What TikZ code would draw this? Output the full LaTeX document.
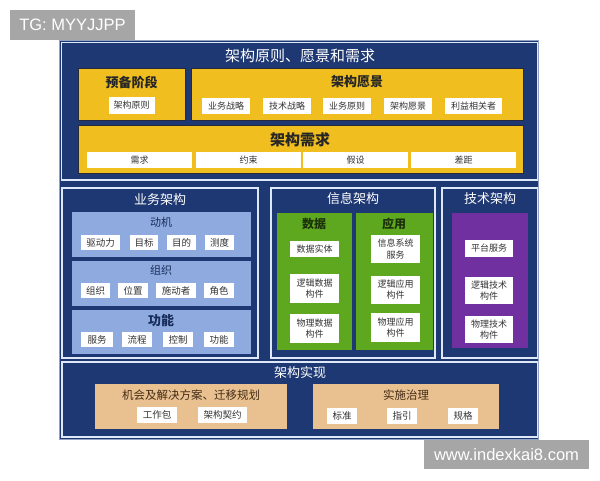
\documentclass[tikz,border=0pt]{standalone}
\usepackage{fontspec}
\setmainfont{Noto Sans CJK SC}
\newfontfamily\wmfont{Liberation Sans}
\usepackage{tikz}

\definecolor{navy}{RGB}{30,56,115}
\definecolor{edgewhite}{RGB}{222,232,246}
\definecolor{yel}{RGB}{240,190,30}
\definecolor{shadowline}{RGB}{38,42,58}
\definecolor{bandblue}{RGB}{142,170,222}
\definecolor{leaf}{RGB}{94,168,32}
\definecolor{grape}{RGB}{112,48,160}
\definecolor{peach}{RGB}{233,192,144}
\definecolor{wmgray}{RGB}{166,166,166}

\tikzset{
	panel/.style={fill=navy, draw=edgewhite, line width=1.2pt},
	yelbox/.style={fill=yel, draw=shadowline, line width=1pt},
	cell/.style={fill=white, inner sep=0pt, align=center, text=black!80, font=\fontsize{9}{11.5}\selectfont},
	bigcell/.style={cell, font=\fontsize{9.5}{12}\selectfont},
	paneltitle/.style={text=white, font=\fontsize{13}{15}\selectfont},
	boxtitle/.style={text=black!85, font=\bfseries\fontsize{13}{15}\selectfont},
	bandtitle/.style={text=navy!80!black, font=\fontsize{11}{13}\selectfont},
	wmark/.style={fill=wmgray, text=white, font=\wmfont\fontsize{16.5}{18}\selectfont}
}

\begin{document}
\begin{tikzpicture}[x=1pt,y=-1pt]
	\useasboundingbox (0,0) rectangle (600,480);
	
	\fill[navy] (59,40) rectangle (539,440);
	\draw[edgewhite!60!navy, line width=0.8pt] (59.4,40.4) rectangle (538.6,439.6);
	
	% top part
	\draw[panel] (61.5,42.5) rectangle (537.5,180);
	\node[paneltitle, font=\fontsize{15}{17}\selectfont] (arch) at (300,56) {架构原则、愿景和需求};
	
	\draw[yelbox] (78,68) rectangle (185,120);
	\draw[yelbox] (191,68) rectangle (523,120);
	\draw[yelbox] (78,125) rectangle (523,173);
	
	\node[boxtitle] (prep) at (131.5,82) {预备阶段};
	\node[cell, minimum width=46pt, minimum height=17pt] (prin) at (131.5,105) {架构原则};
	
	\node[boxtitle] (vis) at (357,82) {架构愿景};
	\foreach \x/\w/\t [count=\i] in {226/48/业务战略, 287/48/技术战略, 347/48/业务原则, 408/48/架构愿景, 473.5/57/利益相关者}{
		\node[cell, minimum width=\w pt, minimum height=16pt] (vis\i) at (\x,106) {\t};
	}
	
	\node[boxtitle, font=\bfseries\fontsize{15}{17}\selectfont] (req) at (300,140) {架构需求};
	\foreach \x/\t [count=\i] in {139.5/需求, 248.5/约束, 355.5/假设, 463.5/差距}{
		\node[cell, minimum width=105pt, minimum height=16pt] (req\i) at (\x,160) {\t};
	}
	
	% business
	\draw[panel] (62,188) rectangle (258,358);
	\node[paneltitle] (biz) at (160,200) {业务架构};
	\fill[bandblue] (72,212) rectangle (251,257);
	\fill[bandblue] (72,261) rectangle (251,306);
	\fill[bandblue] (72,310) rectangle (251,354);
	
	\node[bandtitle] (mot) at (161,222) {动机};
	\foreach \x/\w/\t [count=\i] in {100.5/39/驱动力, 144/28/目标, 181.5/29/目的, 219.5/29/测度}{
		\node[bigcell, minimum width=\w pt, minimum height=15pt] (mot\i) at (\x,242.5) {\t};
	}
	\node[bandtitle] (org) at (161,270) {组织};
	\foreach \x/\w/\t [count=\i] in {95.5/29/组织, 133/30/位置, 176/40/施动者, 219/30/角色}{
		\node[bigcell, minimum width=\w pt, minimum height=15pt] (org\i) at (\x,290.5) {\t};
	}
	\node[bandtitle, font=\bfseries\fontsize{13}{15}\selectfont] (fun) at (161,321) {功能};
	\foreach \x/\w/\t [count=\i] in {97/32/服务, 137/30/流程, 178/30/控制, 219/30/功能}{
		\node[bigcell, minimum width=\w pt, minimum height=15pt] (fun\i) at (\x,339.5) {\t};
	}
	
	% information
	\draw[panel] (271,188) rectangle (435,358);
	\node[paneltitle] (info) at (353,199) {信息架构};
	\fill[leaf] (277,213) rectangle (352,350);
	\fill[leaf] (356,213) rectangle (433,350);
	\node[boxtitle, text=black!70!leaf, font=\bfseries\fontsize{12}{14}\selectfont] (data) at (314,224) {数据};
	\node[boxtitle, text=black!70!leaf, font=\bfseries\fontsize{12}{14}\selectfont] (app) at (394,224) {应用};
	\foreach \y/\h/\t [count=\i] in {249/16/数据实体, 288.5/29/{逻辑数据\\构件}, 328.5/29/{物理数据\\构件}}{
		\node[cell, minimum width=49pt, minimum height=\h pt] (data\i) at (314.5,\y) {\t};
	}
	\foreach \y/\h/\t [count=\i] in {249/28/{信息系统\\服务}, 289.5/28/{逻辑应用\\构件}, 327.5/29/{物理应用\\构件}}{
		\node[cell, minimum width=49pt, minimum height=\h pt] (app\i) at (395.5,\y) {\t};
	}
	
	% technology
	\draw[panel] (442,188) rectangle (537.5,358);
	\node[paneltitle] (tech) at (490,199) {技术架构};
	\fill[grape] (452,213) rectangle (528,348);
	\foreach \y/\h/\t [count=\i] in {248.5/17/平台服务, 290.5/27/{逻辑技术\\构件}, 329.5/27/{物理技术\\构件}}{
		\node[cell, minimum width=48pt, minimum height=\h pt] (tech\i) at (489,\y) {\t};
	}
	
	% realization
	\draw[panel] (62,362) rectangle (537.5,437);
	\node[paneltitle] (impl) at (300,373) {架构实现};
	\fill[peach] (95,384) rectangle (287,429);
	\fill[peach] (313,384) rectangle (499,429);
	\node[boxtitle, font=\fontsize{11.5}{13}\selectfont, text=black!65!brown] (opp) at (191,395) {机会及解决方案、迁移规划};
	\node[boxtitle, font=\fontsize{11.5}{13}\selectfont, text=black!65!brown] (gov) at (406,395) {实施治理};
	\foreach \x/\w/\t [count=\i] in {157/40/工作包, 222.5/49/架构契约}{
		\node[bigcell, minimum width=\w pt, minimum height=16pt] (opp\i) at (\x,415) {\t};
	}
	\foreach \x/\t [count=\i] in {342/标准, 402/指引, 463/规格}{
		\node[bigcell, minimum width=30pt, minimum height=16pt] (gov\i) at (\x,415.5) {\t};
	}
	
	% watermarks
	\node[wmark, minimum width=125pt, minimum height=30pt, inner sep=0pt] (tg) at (72.5,25) {TG: MYYJJPP};
	\node[wmark, minimum width=165pt, minimum height=29pt, inner sep=0pt] (site) at (506.5,454.5) {www.indexkai8.com};
	
\end{tikzpicture}
\end{document}
